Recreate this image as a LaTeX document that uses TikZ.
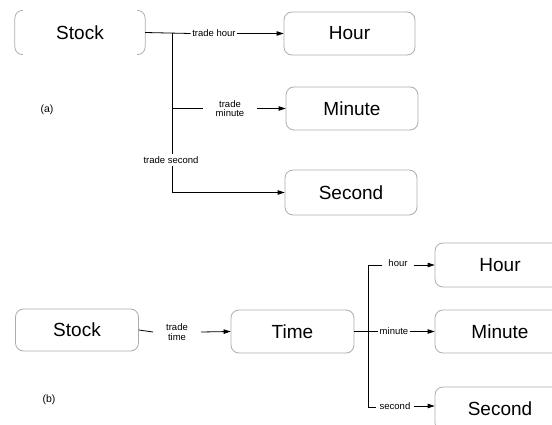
\documentclass[tikz,border=0pt]{standalone}
\usepackage{fontspec}
\setmainfont{Liberation Sans}
\usetikzlibrary{arrows.meta}
\begin{document}
\begin{tikzpicture}[x=1pt,y=-1pt,
  box/.style={draw=gray!65, line width=0.8pt, rounded corners=8pt,
    minimum width=#1, minimum height=43pt, inner sep=0pt,
    font=\fontsize{19}{22}\selectfont},
  box/.default=131pt,
  plain/.style={minimum width=#1, minimum height=44pt, inner sep=0pt,
    font=\fontsize{19}{22}\selectfont},
  lbl/.style={font=\fontsize{9.5}{10.5}\selectfont, align=center,
    inner xsep=1.5pt, inner ysep=1pt},
  tag/.style={font=\fontsize{10.5}{12}\selectfont},
  link/.style={line width=0.8pt, black},
  arr/.style={link, -{Triangle[length=7pt,width=4.5pt]}},
  bracket/.style={draw=gray!65, line width=0.8pt, rounded corners=8pt}
]
\useasboundingbox (0,0) rectangle (552,425);

% ---------- (a): one relation per time unit ----------
\node[plain=130pt] (sa) at (80,32.5) {Stock};
\draw[bracket] ([xshift=8pt]sa.north west) -- (sa.north west)
  -- (sa.south west) -- ([xshift=8pt]sa.south west);
\draw[bracket] ([xshift=-8pt]sa.north east) -- (sa.north east)
  -- (sa.south east) -- ([xshift=-8pt]sa.south east);

\node[box=131pt] (ha)  at (349.5,33.5)  {Hour};
\node[box=132pt] (ma)  at (352,108.5)   {Minute};
\node[box=132pt, minimum height=45pt] (sea) at (351,192.5) {Second};

\coordinate (ja) at (172,33.5);
\coordinate (jm) at (172,108.5);
\coordinate (js) at (172,192.5);

\node[lbl] (lh) at (214,33.5) {trade hour};
\node[lbl, inner xsep=13pt] (lm) at (230,108.5) {trade\\[-1pt]minute};
\node[lbl, inner ysep=2.5pt] (ls) at (171,160) {trade second};

\draw[link] (sa.east) -- (lh.west);
\draw[arr] (lh.east) -- (ha.west);
\draw[link] (ja) -- (ls.north -| ja);
\draw[link] (ls.south -| ja) -- (js);
\draw[arr] (js) -- (sea.west);
\draw[link] (jm) -- (lm.west);
\draw[arr] (lm.east) -- (ma.west);

\node[tag] (ta) at (47,110) {(a)};

% ---------- (b): a shared Time node ----------
\node[box=123pt, minimum height=42pt] (sb) at (77,330) {Stock};
\node[box=123pt] (tb) at (292.5,331.5) {Time};
\node[box=130pt, minimum height=44pt] (hb)  at (500,265)   {Hour};
\node[box=130pt] (mb)  at (500,331.5) {Minute};
\node[box=130pt, minimum height=44pt] (scb) at (500,409)   {Second};

\node[lbl, inner xsep=13pt] (lt) at (177,332) {trade\\[-1pt]time};
\draw[link] (sb.east) -- (lt.west);
\draw[arr] (lt.east) -- (tb.west);

\coordinate (jh) at (368,265);
\coordinate (jsb) at (368,407);
\node[lbl, inner xsep=6pt] (lhb) at (398,263) {hour};
\node[lbl] (lmb) at (394,331.5) {minute};
\node[lbl, inner xsep=3pt] (lsb) at (395,406) {second};

\draw[link] (lhb.west |- jh) -- (jh) -- (jsb) -- (lsb.west |- jsb);
\draw[arr] (lhb.east |- hb.west) -- (hb.west);
\draw[link] (tb.east) -- (lmb.west);
\draw[arr] (lmb.east) -- (mb.west);
\draw[arr] (lsb.east) -- (lsb.east -| scb.west);

\node[tag] (tbb) at (49,400) {(b)};
\end{tikzpicture}
\end{document}
